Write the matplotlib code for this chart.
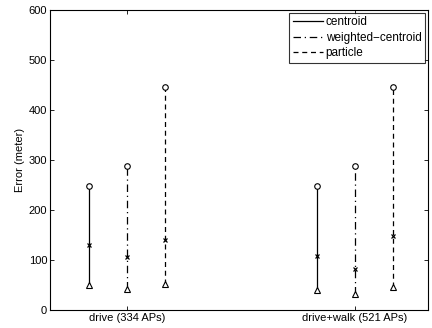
import numpy as np
import matplotlib.pyplot as plt

plt.rcParams['font.family'] = ['Liberation Sans', 'DejaVu Sans']

# ------------------------
# Data
# ------------------------
groups = ['drive (334 APs)', 'drive+walk (521 APs)']
methods = ['centroid', 'weighted\u2212centroid', 'particle']
styles = ['-', (0, (6, 3, 1, 3)), (0, (4, 3))]
offsets = [-1/6, 0, 1/6]

err_max = [[248, 248], [287, 287], [446, 446]]
err_med = [[130, 108], [105, 82], [140, 148]]
err_min = [[50, 40], [42, 32], [52, 46]]

# ------------------------
# Plot
# ------------------------
fig = plt.figure(figsize=(4.32, 3.28), dpi=100)
ax = fig.add_axes([0.1157, 0.0549, 0.875, 0.915])

xc = np.arange(1, len(groups) + 1)
for m in range(len(methods)):
    x = xc + offsets[m]
    ax.vlines(x, err_min[m], err_max[m], colors='k', linestyles=[styles[m]], linewidth=0.9)
    ax.plot([], [], linestyle=styles[m], color='k', linewidth=0.9, label=methods[m])
    ax.plot(x, err_max[m], 'o', mfc='white', mec='k', ms=4, mew=0.8)
    ax.plot(x, err_med[m], 'x', color='k', ms=3, mew=0.9)
    ax.plot(x, err_min[m], '^', mfc='white', mec='k', ms=4.5, mew=0.8)

ax.set_xlim(0.662, 2.32)
ax.set_ylim(0, 600)
ax.set_xticks(xc)
ax.set_xticklabels(groups)
ax.set_yticks(np.arange(0, 601, 100))
ax.set_ylabel('Error (meter)', fontsize=8, labelpad=3)
ax.tick_params(direction='in', top=True, right=True, labelsize=8, length=3, width=0.6, pad=2)
for s in ax.spines.values():
    s.set_linewidth(0.8)

leg = ax.legend(loc='upper right', fontsize=8.5, frameon=True, fancybox=False,
                handlelength=2.6, handletextpad=0.2, labelspacing=0.3,
                borderpad=0.3, borderaxespad=0.25)
leg.get_frame().set_edgecolor('k')
leg.get_frame().set_linewidth(0.8)

plt.savefig('out.png', dpi=100)
